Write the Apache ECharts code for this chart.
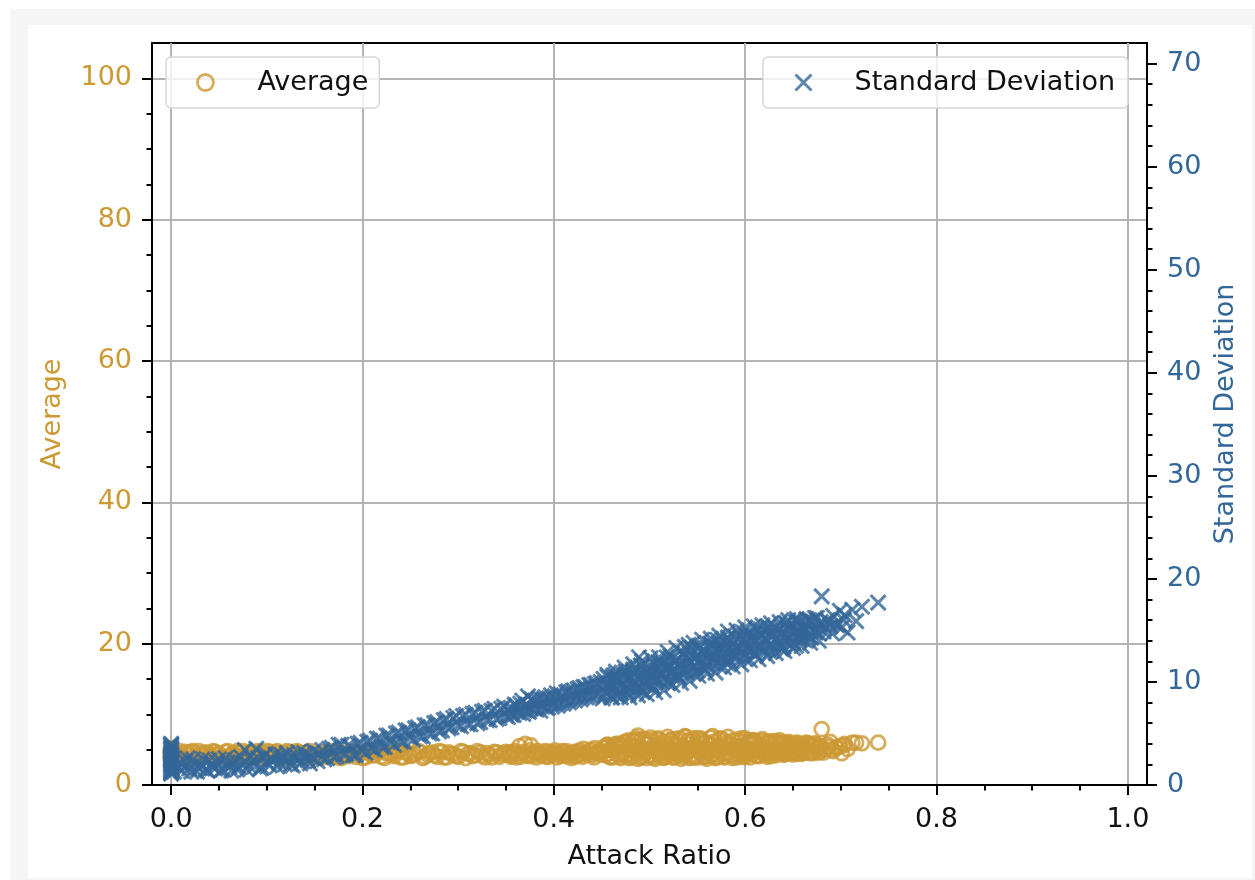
<!DOCTYPE html>
<html><head><meta charset="utf-8">
<script src="https://cdn.jsdelivr.net/npm/echarts@6/dist/echarts.min.js"></script>
<style>
html,body{margin:0;padding:0;background:#fff;}
#frame{position:absolute;left:10px;top:9px;width:1245px;height:871px;background:#f5f5f5;}
#paper{position:absolute;left:28px;top:25px;width:1224px;height:853px;background:#fff;}
#chart{position:absolute;left:0;top:0;width:1255px;height:880px;}
</style></head><body>
<div id="frame"></div><div id="paper"></div><div id="chart"></div>
<script>
// ---- data ----
const attackRatio = [
  0,0,0,0,0,0,0,0,0,0,0,0,0,0,
  0.006,0.011,0.015,0.019,0.023,0.027,0.031,0.036,0.040,0.044,0.048,0.052,0.057,0.061,0.065,0.069,0.073,0.077,0.081,0.085,0.089,0.093,0.097,0.101,0.105,0.109,0.113,0.117,0.121,0.125,0.129,0.133,0.137,0.141,0.145,0.149,
  0.153,0.158,0.163,0.168,0.173,0.178,0.183,0.188,0.193,0.198,0.203,0.208,0.213,0.218,0.223,0.228,0.233,0.238,0.243,0.248,0.253,0.258,0.263,0.268,0.273,0.278,0.283,0.288,0.293,0.298,0.303,0.308,0.313,0.318,0.323,0.328,0.333,0.338,0.343,0.348,
  0.352,0.355,0.358,0.361,0.364,0.367,0.370,0.373,0.376,0.379,0.382,0.385,0.388,0.391,0.394,0.397,0.400,0.403,0.406,0.409,0.412,0.415,0.418,0.421,0.424,0.427,0.430,0.433,0.436,0.439,0.442,0.445,0.448,
  0.451,0.453,0.454,0.456,0.458,0.459,0.461,0.463,0.464,0.466,
  0.468,0.469,0.471,0.473,0.474,0.476,0.478,0.479,0.481,0.483,
  0.484,0.486,0.488,0.489,0.491,0.493,0.494,0.496,0.498,0.499,
  0.501,0.503,0.504,0.506,0.508,0.509,0.511,0.513,0.514,0.516,
  0.518,0.519,0.521,0.523,0.524,0.526,0.528,0.529,0.531,0.533,
  0.534,0.536,0.538,0.539,0.541,0.543,0.544,0.546,0.548,0.549,
  0.551,0.553,0.554,0.556,0.558,0.559,0.561,0.563,0.564,0.566,
  0.568,0.569,0.571,0.573,0.574,0.576,0.578,0.579,0.581,0.583,
  0.584,0.586,0.588,0.589,0.591,0.593,0.594,0.596,0.598,0.599,
  0.601,0.603,0.604,0.606,0.608,0.609,0.611,0.613,0.614,0.616,
  0.618,0.619,0.621,0.623,0.624,0.626,0.628,0.629,0.631,0.633,
  0.634,0.636,0.638,0.639,0.641,0.643,0.644,0.646,0.648,0.649,
  0.651,0.653,0.654,0.656,0.658,0.659,
  0.661,0.663,0.665,0.667,0.669,0.671,0.673,0.675,0.677,0.679,0.680,0.683,0.686,0.689,0.692,0.695,0.699,0.701,0.704,0.707,0.712,0.716,0.722,0.739,
  // second pass of samples
  0,0,0,0,0,0,0,0,0,0,
  0.003,0.009,0.013,0.017,0.021,0.025,0.029,0.033,0.038,0.042,0.046,0.050,0.054,0.059,0.063,0.067,0.071,0.075,0.079,0.083,0.087,0.091,0.095,0.099,0.103,0.107,0.111,0.115,0.119,0.123,0.127,0.131,0.135,0.139,0.143,0.147,
  0.155,0.160,0.165,0.170,0.175,0.180,0.185,0.190,0.195,0.200,0.205,0.210,0.215,0.220,0.225,0.230,0.235,0.240,0.245,0.250,0.255,0.260,0.265,0.270,0.275,0.280,0.285,0.290,0.295,0.300,0.305,0.310,0.315,0.320,0.325,0.330,0.335,0.340,0.345,0.350,
  0.353,0.356,0.359,0.362,0.365,0.368,0.371,0.374,0.377,0.380,0.383,0.386,0.389,0.392,0.395,0.398,0.401,0.404,0.407,0.410,0.413,0.416,0.419,0.422,0.425,0.428,0.431,0.434,0.437,0.440,0.443,0.446,0.449,
  0.452,0.455,0.457,0.460,0.462,0.465,0.467,0.470,0.472,0.475,0.477,
  0.480,0.482,0.485,0.487,0.490,0.492,0.495,0.497,0.500,0.502,0.505,
  0.507,0.510,0.512,0.515,0.517,0.520,0.522,0.525,0.527,0.530,0.532,
  0.535,0.537,0.540,0.542,0.545,0.547,0.550,0.552,0.555,0.557,0.560,
  0.562,0.565,0.567,0.570,0.572,0.575,0.577,0.580,0.582,0.585,0.587,
  0.590,0.592,0.595,0.597,0.600,0.602,0.605,0.607,0.610,0.612,0.615,
  0.617,0.620,0.622,0.625,0.627,0.630,0.632,0.635,0.637,0.640,0.642,
  0.645,0.647,0.650,0.652,0.655,0.657,0.660,
  0.662,0.666,0.670,0.674,0.678,0.682,0.687,0.691,0.696,0.703,
  // third pass: samples on the band edges
  0.456,0.461,0.465,0.470,0.474,0.479,0.483,0.488,0.492,0.497,
  0.501,0.506,0.510,0.515,0.519,0.524,0.528,0.533,0.537,0.542,
  0.546,0.551,0.555,0.560,0.564,0.569,0.573,0.578,0.582,0.587,
  0.591,0.596,0.600,0.605,0.609,0.614,0.618,0.623,0.627,0.632,
  0.636,0.641,0.645,0.650,0.654,0.659,0.664,0.668,0.673,0.677
];
const averageValues = [
  4.9,4.2,3.8,4.6,5.1,4.0,4.4,3.6,4.8,4.3,3.9,4.7,5.2,4.1,
  4.5,3.9,4.7,4.2,4.8,3.8,4.4,4.6,4.0,4.8,4.3,3.9,4.7,4.1,4.5,4.8,3.8,4.3,4.6,4.0,4.7,4.4,3.9,4.8,4.2,4.6,4.0,4.5,4.8,3.9,4.3,4.7,4.1,4.5,4.8,4.0,
  4.4,3.9,4.6,4.1,4.8,3.8,4.3,4.7,4.0,4.5,3.9,4.6,4.2,4.8,3.8,4.4,4.1,4.7,3.9,4.5,4.2,4.8,3.8,4.3,4.6,4.0,4.7,3.9,4.4,4.1,4.8,3.8,4.5,4.2,4.6,3.9,4.3,4.7,4.0,4.5,
  4.3,4.0,4.6,3.9,5.5,4.4,5.8,4.1,5.6,4.7,3.9,4.5,4.2,4.8,4.0,4.4,4.6,3.9,4.3,4.8,4.1,4.5,3.8,4.7,4.2,4.9,4.0,4.6,4.3,5.0,3.9,4.5,4.8,
  4.6,5.4,4.2,5.6,5.0,3.9,5.3,4.8,5.5,4.4,
  5.2,4.0,5.7,4.6,6.1,4.2,6.3,5.0,3.9,5.5,
  4.8,6.6,7.0,4.4,5.2,4.0,6.0,4.6,5.8,4.2,
  6.3,5.0,3.9,5.5,4.8,6.6,4.4,5.2,4.0,6.0,
  4.6,5.8,4.2,6.3,5.0,3.9,5.5,4.8,6.6,4.4,
  5.2,4.0,6.8,4.6,5.8,4.2,6.3,5.0,3.9,5.5,
  4.8,6.6,4.4,5.2,4.0,6.0,4.6,5.8,4.2,6.9,
  5.0,3.9,5.5,4.8,6.6,4.4,5.2,4.0,6.0,4.6,
  5.8,4.2,6.3,5.0,3.9,5.5,4.8,6.6,4.4,5.2,
  4.3,6.0,4.6,5.8,4.5,6.3,5.0,4.2,5.5,4.8,
  6.2,4.4,5.2,4.3,6.0,4.6,5.8,4.5,5.9,5.0,
  4.6,5.5,4.8,6.0,4.4,5.2,4.5,5.9,4.6,5.7,
  4.7,5.4,4.6,5.9,5.0,4.5,
  5.4,4.6,5.9,4.9,5.6,4.5,5.8,5.1,4.7,5.5,7.9,5.0,5.7,6.1,4.8,5.3,5.5,4.5,5.8,5.1,6.0,6.0,5.9,6.0,
  // second pass of samples
  4.5,3.7,5.0,4.2,3.9,4.8,4.4,5.1,3.8,4.6,
  4.2,4.8,4.0,4.5,4.7,4.1,4.8,3.9,4.5,4.2,4.7,4.4,4.0,4.8,4.3,4.1,4.6,4.8,4.0,4.5,4.2,4.8,4.6,4.1,4.7,4.3,4.8,4.0,4.4,4.6,4.1,4.8,4.4,3.9,4.6,4.3,
  4.0,4.6,4.3,4.8,3.9,4.5,4.1,4.7,4.4,3.8,4.6,4.2,4.7,4.0,4.5,4.3,4.8,3.9,4.6,4.1,4.4,4.7,4.0,4.5,4.2,4.8,3.9,4.6,4.3,4.0,4.7,4.4,4.1,4.8,4.2,4.5,3.9,4.6,4.3,4.7,
  4.6,4.2,4.8,4.4,4.0,4.7,4.3,4.9,4.1,4.5,4.8,4.2,4.6,4.0,4.7,4.3,4.9,4.4,4.1,4.6,4.8,4.2,4.5,4.0,4.7,4.3,5.1,4.4,4.8,4.2,5.2,4.6,4.3,
  5.3,4.3,5.6,4.9,4.0,5.3,5.8,4.6,5.5,4.1,5.0,
  5.6,4.3,6.2,4.9,3.9,5.3,6.5,4.6,5.9,4.1,5.0,
  5.7,4.2,6.0,5.0,4.0,5.4,6.4,4.5,5.8,4.2,5.1,
  5.5,4.4,6.3,4.8,3.9,5.2,6.6,4.7,6.0,4.0,4.9,
  5.7,4.2,6.1,5.0,4.0,5.4,6.4,4.5,5.8,4.2,5.1,
  5.5,4.4,6.2,4.8,4.0,5.2,6.3,4.7,5.9,4.1,5.0,
  5.6,4.4,6.1,4.9,4.1,5.3,6.2,4.6,5.8,4.3,5.0,
  5.5,4.5,5.9,4.9,4.4,5.3,5.7,
  5.0,5.8,4.7,5.5,5.2,4.6,5.4,5.0,5.3,5.6,
  // third pass: samples on the band edges
  5.7,3.9,5.8,3.8,6.0,3.8,6.3,3.7,6.5,3.8,
  6.7,3.7,6.4,3.8,6.8,3.9,6.5,3.7,6.9,3.8,
  6.6,3.9,6.4,3.7,6.7,3.8,6.5,3.9,6.8,3.8,
  6.4,4.0,6.6,3.9,6.3,4.1,6.5,4.0,6.2,4.2,
  6.3,4.3,6.1,4.3,6.0,4.4,6.0,4.5,5.9,4.6
];
const stdDeviation = [
  1.1,2.4,3.2,1.6,4.0,2.0,2.9,1.3,3.6,1.8,2.6,3.9,1.5,2.2,
  1.9,1.4,2.3,1.6,2.5,1.3,2.0,1.5,2.4,1.7,2.2,1.4,2.6,1.8,2.1,1.5,2.7,3.4,1.9,2.3,3.5,1.6,2.8,2.1,2.5,3.0,2.2,2.7,3.1,2.0,2.6,3.2,2.3,2.9,2.1,3.3,
  2.3,3.4,2.6,3.6,2.8,3.9,3.0,3.7,2.9,4.1,3.1,4.3,3.4,4.5,3.7,4.8,3.9,5.1,4.2,5.3,4.4,5.6,4.7,5.8,5.0,6.1,5.3,6.4,5.6,6.7,5.7,6.8,5.9,7.0,6.1,7.2,6.3,7.4,6.5,7.6,
  6.6,7.5,6.8,7.7,7.0,8.2,7.2,8.6,7.4,8.1,7.3,8.4,7.6,8.5,7.5,8.7,7.8,8.9,7.9,8.6,8.1,9.1,8.2,9.2,8.4,9.4,8.5,9.5,8.7,9.7,8.8,9.9,9.0,
  8.4,9.9,9.0,10.5,9.6,8.7,10.4,9.5,10.7,8.7,
  10.1,9.1,10.9,9.8,10.5,9.0,8.8,10.4,9.6,11.2,
  10.2,9.3,11.0,12.4,11.6,9.1,10.7,9.7,11.5,10.4,
  11.1,9.6,9.4,11.1,10.3,11.9,10.9,10.0,11.8,10.8,
  12.4,9.9,11.5,10.6,12.3,11.3,12.1,10.5,10.4,12.0,
  11.2,12.8,11.8,10.9,13.6,11.8,13.3,10.8,12.4,11.5,
  13.2,12.2,12.9,11.4,11.2,12.9,12.0,13.7,12.6,11.8,
  13.5,12.5,14.1,11.5,13.2,12.2,14.0,12.9,13.7,12.1,
  12.0,13.6,12.8,14.4,13.4,12.5,14.2,13.3,14.8,12.3,
  13.9,13.0,14.7,13.6,14.4,12.8,12.6,14.3,13.4,15.1,
  14.0,13.1,14.9,13.9,15.4,12.9,14.5,13.5,15.3,14.2,
  15.0,13.4,13.2,14.9,14.0,15.7,14.6,13.7,15.5,14.5,
  16.0,13.5,15.1,14.1,15.8,14.7,
  14.1,15.7,14.6,16.0,14.3,15.5,14.9,16.2,14.7,15.8,18.3,15.2,16.0,15.4,16.4,15.6,16.9,15.3,16.5,14.8,17.0,15.9,17.3,17.7,
  // second pass of samples
  3.4,1.2,2.7,3.8,1.9,3.0,1.4,2.5,3.5,2.1,
  1.3,2.2,1.7,2.6,1.3,2.1,1.6,2.5,1.4,2.0,1.6,2.5,1.5,2.2,1.4,2.4,1.7,2.1,1.5,2.8,1.8,2.6,1.7,3.0,1.9,2.4,1.8,2.9,2.0,2.6,1.9,2.8,2.1,3.1,2.4,2.7,
  3.0,2.5,3.5,2.7,3.9,3.0,3.8,2.9,4.0,3.3,4.2,3.5,4.5,3.7,4.8,4.1,5.0,4.2,5.3,4.6,5.5,4.7,5.8,5.0,6.0,5.2,6.3,5.5,6.5,5.8,6.7,5.9,6.9,6.0,7.1,6.3,7.2,6.4,7.4,6.7,
  7.3,6.8,7.8,7.1,7.9,6.9,7.8,7.1,8.3,7.4,8.2,7.2,8.3,7.5,8.4,7.6,8.6,7.7,8.8,7.9,9.0,8.0,9.1,8.2,9.3,8.3,9.5,8.5,9.7,8.6,9.8,8.8,10.0,
  10.3,8.9,9.8,8.5,10.6,9.4,10.3,8.9,9.9,11.0,9.5,
  10.4,11.0,9.6,10.4,9.2,11.5,10.1,10.9,9.6,10.6,11.7,
  10.2,11.1,11.8,10.4,11.3,10.1,12.5,11.1,11.9,10.6,11.6,
  12.7,11.3,12.2,12.8,11.4,12.3,11.1,13.5,12.0,12.9,11.6,
  12.5,13.6,12.2,13.1,13.7,12.3,13.2,11.9,14.3,12.9,13.7,
  12.4,13.4,14.5,13.0,13.9,14.5,13.1,14.0,12.7,15.1,13.6,
  14.5,13.1,14.1,15.2,13.7,14.6,15.2,13.8,14.6,13.4,15.7,
  14.3,15.1,13.8,14.7,15.8,14.3,15.2,
  15.2,14.4,15.9,14.8,15.6,14.9,15.8,14.7,15.5,16.0,
  // third pass: samples on the band edges
  10.7,8.5,11.0,8.5,11.4,8.5,11.7,8.7,12.0,8.8,
  12.3,9.0,12.4,9.2,12.9,9.7,13.3,9.9,13.4,10.1,
  13.8,10.6,14.1,10.8,14.2,10.9,14.5,11.4,14.9,11.5,
  15.0,11.7,15.3,12.1,15.4,12.2,15.5,12.5,15.7,12.8,
  15.8,13.0,16.0,13.3,16.1,13.5,16.1,13.8,16.2,14.0
];
const xTicks = [0, 0.2, 0.4, 0.6, 0.8, 1.0];
const xMinorTicks = [0.05,0.1,0.15,0.25,0.3,0.35,0.45,0.5,0.55,0.65,0.7,0.75,0.85,0.9,0.95];
const avgTicks = [0, 20, 40, 60, 80, 100];
const avgMinorTicks = [5,10,15,25,30,35,45,50,55,65,70,75,85,90,95];
const sdTicks = [0, 10, 20, 30, 40, 50, 60, 70];
const sdMinorTicks = [2,4,6,8,12,14,16,18,22,24,26,28,32,34,36,38,42,44,46,48,52,54,56,58,62,64,66,68];

// ---- chart ----
const GOLD = '#CC9933', BLUE = '#336699', INK = '#111111', GRIDC = '#b4b4b4';
const FONT = 'DejaVu Sans';
const X_MARK = 'path://M0,0L10,10M10,0L0,10';
const tickLine = { color: '#000', width: 2 };

const avgData = attackRatio.map((x, i) => [x, averageValues[i]]);
const sdData = attackRatio.map((x, i) => [x, stdDeviation[i]]);

const chart = echarts.init(document.getElementById('chart'), null, { renderer: 'canvas' });

function minorAxis(pos, min, max, ticks) {
  return {
    type: 'value', position: pos, min: min, max: max,
    axisLine: { show: false, onZero: false },
    axisTick: { show: true, customValues: ticks, length: 5.5, lineStyle: tickLine },
    axisLabel: { show: false }, splitLine: { show: false }
  };
}

const legendCommon = {
  orient: 'horizontal', top: 57, itemWidth: 16, itemHeight: 16,
  backgroundColor: 'rgba(255,255,255,0.8)', borderColor: '#d6d6d6', borderWidth: 1.5, borderRadius: 5,
  selectedMode: false
};

chart.setOption({
  animation: false,
  textStyle: { fontFamily: FONT },
  grid: { left: 152, right: 108, top: 43, bottom: 95, show: true, borderColor: '#000', borderWidth: 2,
          backgroundColor: 'rgba(0,0,0,0)', containLabel: false, outerBoundsMode: 'none' },
  legend: [
    Object.assign({}, legendCommon, {
      left: 166, padding: [12, 11, 12, 30],
      data: [{ name: 'Average', icon: 'circle', itemStyle: { color: 'rgba(0,0,0,0)', borderColor: GOLD, borderWidth: 2.8 } }],
      textStyle: { fontFamily: FONT, fontSize: 27, color: INK, padding: [0, 0, 0, 39] }
    }),
    Object.assign({}, legendCommon, {
      left: 763, padding: [12, 13, 12, 31],
      data: [{ name: 'Standard Deviation', icon: X_MARK, itemStyle: { color: 'rgba(0,0,0,0)', borderColor: BLUE, borderWidth: 3 } }],
      textStyle: { fontFamily: FONT, fontSize: 27, color: INK, padding: [0, 0, 0, 38] }
    })
  ],
  xAxis: [
    {
      type: 'value', position: 'bottom', min: -0.02, max: 1.02,
      axisLine: { show: true, onZero: false, lineStyle: tickLine },
      axisTick: { show: true, customValues: xTicks, length: 10, lineStyle: tickLine },
      axisLabel: { customValues: xTicks, formatter: v => Number(v).toFixed(1), color: INK, fontFamily: FONT, fontSize: 27, margin: 21 },
      splitLine: { show: true, lineStyle: { color: GRIDC, width: 2 } },
      name: 'Attack Ratio', nameLocation: 'middle', nameGap: 58,
      nameTextStyle: { color: INK, fontFamily: FONT, fontSize: 27 }
    },
    minorAxis('bottom', -0.02, 1.02, xMinorTicks)
  ],
  yAxis: [
    {
      type: 'value', position: 'left', min: 0, max: 105,
      axisLine: { show: true, onZero: false, lineStyle: tickLine },
      axisTick: { show: true, customValues: avgTicks, length: 10, lineStyle: tickLine },
      axisLabel: { customValues: avgTicks, color: GOLD, fontFamily: FONT, fontSize: 27, margin: 20, padding: [6, 0, 0, 0] },
      splitLine: { show: true, lineStyle: { color: GRIDC, width: 2 } },
      name: 'Average', nameLocation: 'middle', nameGap: 86,
      nameTextStyle: { color: GOLD, fontFamily: FONT, fontSize: 27 }
    },
    {
      type: 'value', position: 'right', min: 0, max: 72,
      axisLine: { show: true, onZero: false, lineStyle: tickLine },
      axisTick: { show: true, customValues: sdTicks, length: 10, lineStyle: tickLine },
      axisLabel: { customValues: sdTicks, color: BLUE, fontFamily: FONT, fontSize: 27, margin: 20, padding: [6, 0, 0, 0] },
      splitLine: { show: false },
      name: 'Standard Deviation', nameLocation: 'middle', nameGap: 64,
      nameTextStyle: { color: BLUE, fontFamily: FONT, fontSize: 27 }
    },
    minorAxis('left', 0, 105, avgMinorTicks),
    minorAxis('right', 0, 72, sdMinorTicks)
  ],
  series: [
    {
      type: 'scatter', name: 'Average', xAxisIndex: 0, yAxisIndex: 0, data: avgData,
      symbol: 'circle', symbolSize: 14,
      itemStyle: { color: 'rgba(0,0,0,0)', borderColor: GOLD, borderWidth: 2.8 },
      emphasis: { disabled: true }, z: 2
    },
    {
      type: 'scatter', name: 'Standard Deviation', xAxisIndex: 0, yAxisIndex: 1, data: sdData,
      symbol: X_MARK, symbolSize: 15,
      itemStyle: { color: 'rgba(0,0,0,0)', borderColor: BLUE, borderWidth: 3 },
      emphasis: { disabled: true }, z: 3
    }
  ]
});
</script></body></html>
